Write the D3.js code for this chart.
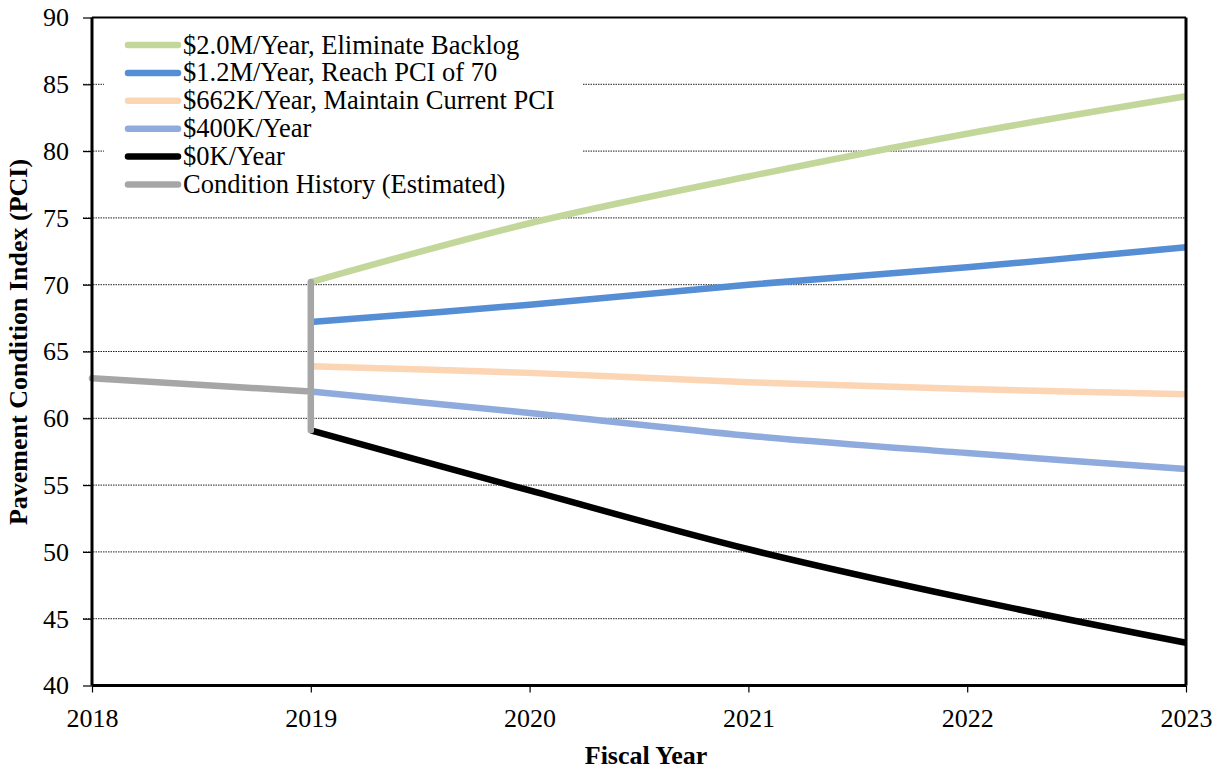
<!DOCTYPE html>
<html>
<head>
<meta charset="utf-8">
<script src="https://cdn.jsdelivr.net/npm/d3@7"></script>
<style>
  html, body { margin: 0; padding: 0; background: #fff; }
  svg { display: block; }
</style>
</head>
<body>
<svg id="chart" width="1219" height="769" font-family="'Liberation Serif', 'Times New Roman', serif"></svg>
<script>
// Fiscal years on the axis and projection years
const axisYears = [2018, 2019, 2020, 2021, 2022, 2023];
const projYears = [2019, 2020, 2021, 2022, 2023];
const yTicks = [40, 45, 50, 55, 60, 65, 70, 75, 80, 85, 90];

// Projected PCI for each funding scenario
const pci2M   = [70.2, 74.6, 78.1, 81.3, 84.1];
const pci12M  = [67.2, 68.5, 70.0, 71.3, 72.8];
const pci662K = [63.9, 63.4, 62.7, 62.2, 61.8];
const pci400K = [62.0, 60.4, 58.7, 57.4, 56.2];
const pci0K   = [59.1, 54.6, 50.2, 46.5, 43.2];

// Estimated condition history, with the 2019 span of outcomes
const historyYears = [2018, 2019, 2019, 2019];
const historyPCI   = [63.0, 62.0, 70.2, 59.1];

const seriesNames = [
  "$2.0M/Year, Eliminate Backlog",
  "$1.2M/Year, Reach PCI of 70",
  "$662K/Year, Maintain Current PCI",
  "$400K/Year",
  "$0K/Year",
  "Condition History (Estimated)"
];
const seriesColors = ["#C4D79B", "#558ED5", "#FCD5B5", "#8FAADC", "#000000", "#A6A6A6"];

const series = [
  { name: seriesNames[0], color: seriesColors[0], smooth: true, pts: projYears.map((y, i) => [y, pci2M[i]]) },
  { name: seriesNames[1], color: seriesColors[1], smooth: true, pts: projYears.map((y, i) => [y, pci12M[i]]) },
  { name: seriesNames[2], color: seriesColors[2], smooth: true, pts: projYears.map((y, i) => [y, pci662K[i]]) },
  { name: seriesNames[3], color: seriesColors[3], smooth: true, pts: projYears.map((y, i) => [y, pci400K[i]]) },
  { name: seriesNames[4], color: seriesColors[4], smooth: true, pts: projYears.map((y, i) => [y, pci0K[i]]) },
  { name: seriesNames[5], color: seriesColors[5], smooth: false, pts: historyYears.map((y, i) => [y, historyPCI[i]]) }
];

const svg = d3.select("#chart");
const W = 1219, H = 769;
const m = { left: 92, right: 33, top: 17.5, bottom: 83.5 };
const FONT = "'Liberation Serif', 'Times New Roman', serif";

const x = d3.scaleLinear().domain([2018, 2023]).range([m.left, W - m.right]);
const y = d3.scaleLinear().domain([40, 90]).range([H - m.bottom, m.top]);

// Dotted horizontal gridlines, including the outward tick stub
svg.append("g").selectAll("line")
  .data(yTicks.filter(t => t > 40 && t < 90))
  .join("line")
  .attr("x1", m.left - 9).attr("x2", W - m.right)
  .attr("y1", d => y(d)).attr("y2", d => y(d))
  .attr("stroke", "#222").attr("stroke-width", 1)
  .attr("stroke-dasharray", "1.5,1");

// Scenario lines (smoothed projections, straight history)
const smoothLine = d3.line().x(d => x(d[0])).y(d => y(d[1])).curve(d3.curveCatmullRom.alpha(0.5));
const straightLine = d3.line().x(d => x(d[0])).y(d => y(d[1]));
svg.append("g").selectAll("path")
  .data(series)
  .join("path")
  .attr("d", d => (d.smooth ? smoothLine : straightLine)(d.pts))
  .attr("fill", "none")
  .attr("stroke", d => d.color)
  .attr("stroke-width", 6.5)
  .attr("stroke-linejoin", "round")
  .attr("stroke-linecap", d => d.smooth ? "butt" : "round");

// Axes
const yAxis = d3.axisLeft(y).tickValues(yTicks).tickSize(9).tickPadding(14);
const gy = svg.append("g").attr("transform", `translate(${m.left},0)`).call(yAxis)
  .attr("font-family", FONT).attr("font-size", 26);
gy.select(".domain").remove();
gy.selectAll(".tick line").attr("stroke", "#000").attr("stroke-width", 1.2);
gy.selectAll("text").attr("fill", "#000");

const xAxis = d3.axisBottom(x).tickValues(axisYears).tickFormat(d3.format("d")).tickSize(7).tickPadding(16);
const gx = svg.append("g").attr("transform", `translate(0,${H - m.bottom})`).call(xAxis)
  .attr("font-family", FONT).attr("font-size", 26);
gx.select(".domain").remove();
gx.selectAll(".tick line").attr("stroke", "#000").attr("stroke-width", 1.2);
gx.selectAll("text").attr("fill", "#000");

// Plot frame
svg.append("line").attr("x1", m.left).attr("x2", W - m.right)
  .attr("y1", m.top).attr("y2", m.top).attr("stroke", "#000").attr("stroke-width", 2);
svg.append("line").attr("x1", m.left).attr("x2", W - m.right)
  .attr("y1", H - m.bottom).attr("y2", H - m.bottom).attr("stroke", "#000").attr("stroke-width", 3);
svg.append("line").attr("x1", m.left).attr("x2", m.left)
  .attr("y1", m.top).attr("y2", H - m.bottom).attr("stroke", "#000").attr("stroke-width", 3);
svg.append("line").attr("x1", W - m.right).attr("x2", W - m.right)
  .attr("y1", m.top).attr("y2", H - m.bottom).attr("stroke", "#000").attr("stroke-width", 3);

// Axis titles
svg.append("text")
  .attr("x", 646).attr("y", 764)
  .attr("text-anchor", "middle")
  .attr("font-size", 26).attr("font-weight", "bold")
  .text("Fiscal Year");
svg.append("text")
  .attr("transform", "translate(27,342) rotate(-90)")
  .attr("text-anchor", "middle")
  .attr("font-size", 26).attr("font-weight", "bold")
  .text("Pavement Condition Index (PCI)");

// Legend
const lg = svg.append("g");
lg.append("rect").attr("x", 104).attr("y", 27).attr("width", 478).attr("height", 172).attr("fill", "#fff");
const rowY = i => 45 + i * 27.9;
const items = lg.selectAll("g.item").data(series).join("g").attr("class", "item");
items.append("line")
  .attr("x1", 128).attr("x2", 178)
  .attr("y1", (d, i) => rowY(i)).attr("y2", (d, i) => rowY(i))
  .attr("stroke", d => d.color).attr("stroke-width", 6.5).attr("stroke-linecap", "round");
items.append("text")
  .attr("x", 183).attr("y", (d, i) => rowY(i) + 8.5)
  .attr("font-size", 26.5)
  .text(d => d.name);
</script>
</body>
</html>
